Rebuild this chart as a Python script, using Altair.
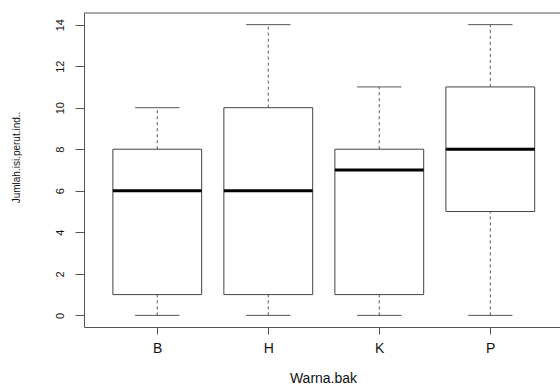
import altair as alt
import pandas as pd

categories = ["B", "H", "K", "P"]
mins = [0, 0, 0, 0]
q1s = [1, 1, 1, 5]
medians = [6, 6, 7, 8]
q3s = [8, 10, 8, 11]
maxs = [10, 14, 11, 14]
y_ticks = [0, 2, 4, 6, 8, 10, 12, 14]

df = pd.DataFrame({
    "cat": categories,
    "pos": list(range(1, len(categories) + 1)),
    "lo": mins, "q1": q1s, "med": medians, "q3": q3s, "hi": maxs,
})

FONT = "Liberation Sans"
XDOM = [0.34, 4.628]
YDOM = [-0.56, 14.56]
W, H = 476, 314
label_expr = "datum.value == 1 ? 'B' : datum.value == 2 ? 'H' : datum.value == 3 ? 'K' : datum.value == 4 ? 'P' : ''"

xs = alt.Scale(domain=XDOM, nice=False, zero=False)
ys = alt.Scale(domain=YDOM, nice=False, zero=False)

base = alt.Chart(df)

xaxis = alt.Axis(values=[1, 2, 3, 4], labelExpr=label_expr, title="Warna.bak",
                 grid=False, domainColor="#555", tickColor="#555", tickSize=7,
                 labelFont=FONT, labelFontSize=14, labelColor="#111", labelPadding=7,
                 titleFont=FONT, titleFontSize=14, titleFontWeight="normal", titleColor="#111",
                 titleX=239, titleY=51, titleBaseline="middle", titleAlign="center")
yaxis = alt.Axis(values=y_ticks, title="Jumlah.isi.perut.ind..", grid=False,
                 domainColor="#555", tickColor="#555", tickSize=9,
                 labelAngle=270, labelAlign="center", labelBaseline="bottom", labelPadding=10,
                 labelFont=FONT, labelFontSize=11, labelColor="#111",
                 titleFont=FONT, titleFontSize=10, titleFontWeight="normal", titleColor="#111",
                 titleAngle=270, titleX=-68, titleY=144, titleAlign="center", titleBaseline="middle")

whisk_hi = base.mark_rule(color="#555", strokeWidth=1, strokeDash=[3, 3]).encode(
    x=alt.X("pos:Q", scale=xs, axis=xaxis),
    y=alt.Y("q3:Q", scale=ys, axis=yaxis),
    y2="hi:Q",
)
whisk_lo = base.mark_rule(color="#555", strokeWidth=1, strokeDash=[3, 3]).encode(
    x=alt.X("pos:Q", scale=xs), y=alt.Y("lo:Q", scale=ys), y2="q1:Q",
)
caps_hi = base.transform_calculate(a="datum.pos - 0.2", b="datum.pos + 0.2").mark_rule(
    color="#555", strokeWidth=1).encode(
    x=alt.X("a:Q", scale=xs), x2="b:Q", y=alt.Y("hi:Q", scale=ys))
caps_lo = base.transform_calculate(a="datum.pos - 0.2", b="datum.pos + 0.2").mark_rule(
    color="#555", strokeWidth=1).encode(
    x=alt.X("a:Q", scale=xs), x2="b:Q", y=alt.Y("lo:Q", scale=ys))
boxes = base.transform_calculate(a="datum.pos - 0.4", b="datum.pos + 0.4").mark_rect(
    fill="white", stroke="#444", strokeWidth=1).encode(
    x=alt.X("a:Q", scale=xs), x2="b:Q", y=alt.Y("q1:Q", scale=ys), y2="q3:Q")
meds = base.transform_calculate(a="datum.pos - 0.4", b="datum.pos + 0.4").mark_rule(
    color="black", strokeWidth=3).encode(
    x=alt.X("a:Q", scale=xs), x2="b:Q", y=alt.Y("med:Q", scale=ys))
top = alt.Chart(pd.DataFrame({"k": [0]})).mark_rule(color="#555", strokeWidth=1).encode(
    x=alt.value(0), x2=alt.value(W), y=alt.value(0))

chart = alt.layer(whisk_hi, whisk_lo, caps_hi, caps_lo, boxes, meds, top).properties(
    width=W, height=H,
    autosize=alt.AutoSizeParams(type="none"),
    padding={"left": 84, "top": 13, "right": 0, "bottom": 61},
    background="white",
).configure_view(stroke=None)

chart.save("out.html", embed_options={"renderer": "svg", "actions": False})
